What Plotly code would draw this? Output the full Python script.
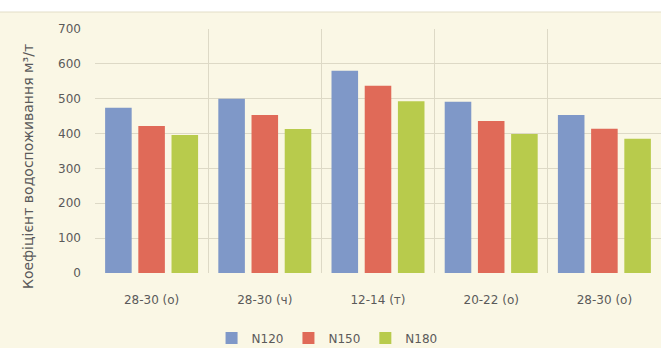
import plotly.graph_objects as go

categories = ["28-30 (о)", "28-30 (ч)", "12-14 (т)", "20-22 (о)", "28-30 (о)"]
cat_ids = ["c1", "c2", "c3", "c4", "c5"]
n120 = [474, 500, 580, 491, 453]
n150 = [422, 453, 537, 436, 414]
n180 = [396, 413, 493, 399, 385]
series_names = ["N120", "N150", "N180"]
colors = ["#7F98C8", "#E06A58", "#B8CB4C"]
y_title = "Коефіцієнт водоспоживання м³/т"

fig = go.Figure()
for name, vals, col in zip(series_names, [n120, n150, n180], colors):
    fig.add_trace(go.Bar(x=cat_ids, y=vals, name=name, marker=dict(color=col, line=dict(width=0))))

W, H = 661, 348
ml, mr, mt, mb = 95, 0, 29, 75
ph = H - mt - mb
pw = W - ml - mr
FONT = "DejaVu Sans, Liberation Sans, sans-serif"
fig.update_layout(
    width=W, height=H,
    margin=dict(l=ml, r=mr, t=mt, b=mb, autoexpand=False),
    paper_bgcolor="#FAF7E5",
    plot_bgcolor="#FAF7E5",
    barmode="group",
    bargap=0.12,
    bargroupgap=0.2,
    font=dict(family=FONT, size=12, color="#5A5A5A"),
    showlegend=True,
    legend=dict(orientation="h", x=0.41, xanchor="center", y=-(338 - 273) / ph, yanchor="middle",
                font=dict(size=12, color="#5A5A5A"), itemwidth=30, tracegroupgap=0,
                bgcolor="rgba(0,0,0,0)"),
    xaxis=dict(type="category", tickmode="array", tickvals=cat_ids, ticktext=categories,
               tickson="boundaries", showgrid=True, gridcolor="#DDD9C6", gridwidth=1,
               ticks="", showline=False, zeroline=False, ticklabelstandoff=18),
    yaxis=dict(range=[0, 700], dtick=100, showgrid=True, gridcolor="#DDD9C6", gridwidth=1,
               zeroline=False, showline=False, ticks="", ticklabelstandoff=13),
)
fig.add_annotation(text=y_title, textangle=-90, xref="paper", yref="paper",
                   x=(28 - ml) / pw, y=(273 - 167) / ph, xanchor="center", yanchor="middle",
                   showarrow=False, font=dict(family=FONT, size=14, color="#5A5A5A"))
# top white band
fig.add_shape(type="rect", xref="paper", yref="paper", x0=-ml / pw, x1=1,
              y0=1 + (mt - 12) / ph, y1=1 + mt / ph + 0.01, fillcolor="white", line=dict(width=0), layer="above")
fig.add_shape(type="line", xref="paper", yref="paper", x0=-ml / pw, x1=1,
              y0=1 + (mt - 12) / ph, y1=1 + (mt - 12) / ph, line=dict(color="#E2DEC8", width=1))
fig.write_html("out.html")
